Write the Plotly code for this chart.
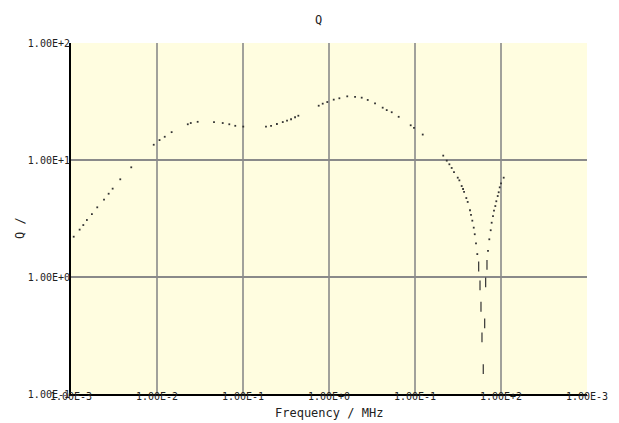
import plotly.graph_objects as go

# Frequency (MHz) and Q values
freq_mhz = [
    1.075e-3, 1.26e-3, 1.39e-3, 1.53e-3, 1.75e-3, 2.02e-3, 2.42e-3, 2.74e-3, 3.05e-3, 3.74e-3,
    5.02e-3, 9.16e-3, 1.07e-2, 1.23e-2, 1.48e-2, 2.28e-2, 2.47e-2, 2.97e-2, 4.60e-2, 5.81e-2,
    6.93e-2, 8.13e-2, 0.1007, 0.185, 0.212, 0.248, 0.290, 0.325, 0.362, 0.403,
    0.440, 0.759, 0.845, 0.955, 1.135, 1.32, 1.63, 2.01, 2.40, 2.82,
    3.43, 4.21, 4.69, 5.36, 6.46, 8.91, 9.73, 12.3,
    21.3, 23.4, 25.1, 26.7, 28.4, 31.4, 32.8, 34.9, 36.2, 37.2,
    39.5, 41.0, 43.6, 44.8, 46.4, 48.2, 49.5, 51.2, 53.0, 55.0,
    57.0, 58.5, 60.1, 62.2,
    64.6, 66.3, 68.7, 70.6, 73.1, 75.9, 77.9, 80.7, 82.9, 85.9,
    88.2, 91.6, 94.0, 96.6, 100.0, 107.5,
]
q_values = [
    2.21, 2.54, 2.78, 3.07, 3.45, 3.94, 4.58, 5.15, 5.69, 6.84,
    8.66, 13.5, 14.8, 15.8, 17.3, 20.2, 20.7, 21.2, 21.1, 20.7,
    20.2, 19.6, 19.3, 19.3, 19.6, 20.3, 21.1, 21.7, 22.3, 23.2,
    23.9, 29.1, 30.3, 31.3, 32.8, 33.7, 35.0, 34.7, 34.1, 32.6,
    30.5, 28.0, 26.7, 25.6, 23.4, 19.8, 18.8, 16.5,
    10.9, 9.87, 9.19, 8.55, 7.89, 7.06, 6.70, 5.99, 5.65, 5.33,
    4.73, 4.38, 3.72, 3.39, 3.03, 2.64, 2.32, 1.94, 1.57, 1.23,
    0.849, 0.557, 0.305, 0.163,
    0.402, 0.901, 1.27, 1.67, 2.10, 2.51, 2.91, 3.32, 3.69, 4.04,
    4.44, 4.92, 5.30, 5.84, 6.32, 7.06,
]

x_tickvals = [1e-3, 1e-2, 1e-1, 1e0, 1e1, 1e2, 1e3]
x_ticktext = ["1.00E-3", "1.00E-2", "1.00E-1", "1.00E+0", "1.00E-1", "1.00E+2", "1.00E-3"]
y_tickvals = [1e-1, 1e0, 1e1, 1e2]
y_ticktext = ["1.00E-1", "1.00E+0", "1.00E+1", "1.00E+2"]

title_text = "Q"
x_title = "Frequency / MHz"
y_title = "Q /"

FONT = "DejaVu Sans Mono"
INK = "#222222"
DOT = "#333333"
GRID = "#8a8a8a"

steep = [q < 1.3 for q in q_values]
fx_dot = [f for f, s in zip(freq_mhz, steep) if not s]
q_dot = [q for q, s in zip(q_values, steep) if not s]
fx_dash = [f for f, s in zip(freq_mhz, steep) if s]
q_dash = [q for q, s in zip(q_values, steep) if s]

fig = go.Figure()
fig.add_trace(go.Scatter(
    x=fx_dot, y=q_dot, mode="markers",
    marker=dict(symbol="square", size=1.8, color=DOT, line=dict(width=0)),
    showlegend=False, hoverinfo="x+y",
))
fig.add_trace(go.Scatter(
    x=fx_dash, y=q_dash, mode="markers",
    marker=dict(symbol="line-ns", size=7, color=DOT, line=dict(width=1.2, color=DOT)),
    showlegend=False, hoverinfo="x+y",
))

# vertical grid lines (no line at the right edge, as in the reference)
for xv in x_tickvals[1:-1]:
    fig.add_shape(type="line", xref="x", yref="paper", x0=xv, x1=xv, y0=0, y1=1,
                  line=dict(color=GRID, width=1.6), layer="below")

# the page body adds an 8px offset, so the figure is 8px smaller and margins shifted
fig.update_layout(
    width=611, height=415,
    margin=dict(l=63, r=32, t=35, b=29),
    paper_bgcolor="white",
    plot_bgcolor="#FFFDE0",
    font=dict(family=FONT, size=10, color=INK),
    xaxis=dict(
        type="log", range=[-3, 3],
        tickvals=x_tickvals, ticktext=x_ticktext,
        showgrid=False, zeroline=False,
        showline=True, linecolor="black", linewidth=2,
        ticks="", ticklabelstandoff=-8,
        tickfont=dict(family=FONT, size=10, color=INK),
    ),
    yaxis=dict(
        type="log", range=[-1, 2],
        tickvals=y_tickvals, ticktext=y_ticktext,
        showgrid=True, gridcolor=GRID, gridwidth=1.6,
        zeroline=False,
        showline=True, linecolor="black", linewidth=2,
        ticks="", ticklabelstandoff=-3,
        tickfont=dict(family=FONT, size=10, color=INK),
    ),
    annotations=[
        dict(text=title_text, xref="paper", yref="paper", x=0.4787, y=1.0655,
             showarrow=False, font=dict(family=FONT, size=12, color=INK),
             xanchor="center", yanchor="middle"),
        dict(text=x_title, xref="paper", yref="paper", x=0.5, y=-0.054,
             showarrow=False, font=dict(family=FONT, size=12, color=INK),
             xanchor="center", yanchor="middle"),
        dict(text=y_title, xref="paper", yref="paper", x=-0.0988, y=0.473,
             showarrow=False, textangle=-90, font=dict(family=FONT, size=12, color=INK),
             xanchor="center", yanchor="middle"),
    ],
)

fig.write_html("out.html")
